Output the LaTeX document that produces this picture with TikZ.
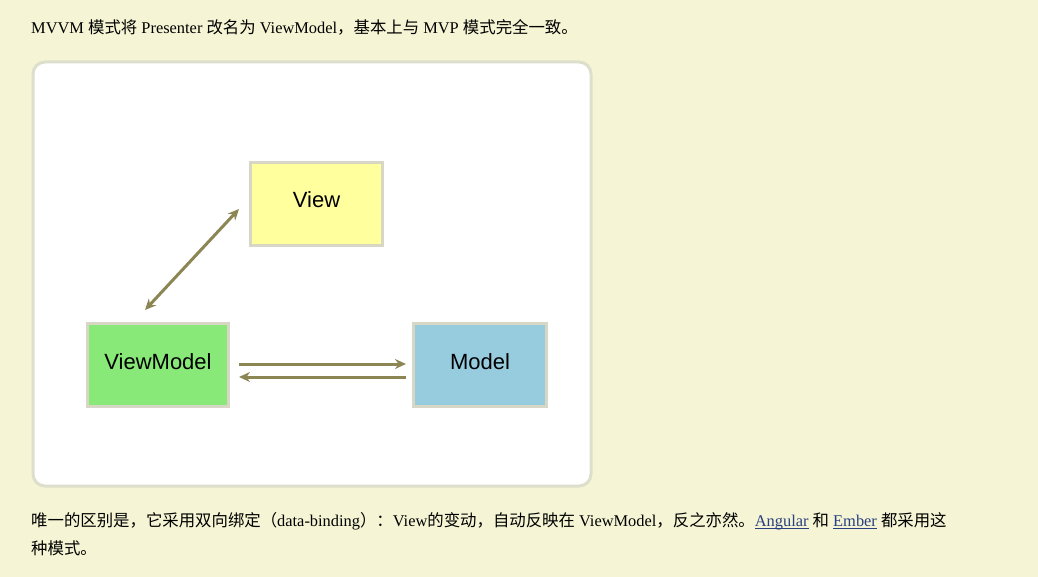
\documentclass[tikz,border=0pt]{standalone}
\usepackage{fontspec}
\setmainfont{Liberation Serif}
\newfontfamily\cjk{Noto Sans CJK SC}
\newfontfamily\boxfont{Liberation Sans}
\usetikzlibrary{arrows.meta,positioning}
\definecolor{pagebg}{RGB}{245,245,213}
\definecolor{panelline}{RGB}{222,222,205}
\definecolor{boxline}{RGB}{216,214,196}
\definecolor{viewfill}{RGB}{255,255,158}
\definecolor{vmfill}{RGB}{136,232,120}
\definecolor{modelfill}{RGB}{150,204,222}
\definecolor{arrowcol}{RGB}{140,134,84}
\definecolor{linkcol}{RGB}{42,63,127}
\newcommand{\weblink}[1]{{\color{linkcol}\setbox0\hbox{#1}\rlap{\rule[-2.5pt]{\wd0}{0.9pt}}\box0}}

\begin{document}
\begin{tikzpicture}[x=1pt,y=-1pt,
	box/.style={draw=boxline, line width=3pt, minimum width=#1, minimum height=83pt, inner sep=0pt, text height=16pt, text depth=8pt, font=\boxfont\fontsize{22}{26}\selectfont},
	link/.style={draw=arrowcol, line width=3pt, -{Stealth[length=11pt,width=10pt]}},
	txt/.style={anchor=base west, inner sep=0pt, font=\fontsize{16.4}{20}\selectfont}]
		\fill[pagebg] (0,0) rectangle (1038,577);
		\useasboundingbox (0,0) rectangle (1038,577);

		\node [txt] (intro) at (31,34) {MVVM {\cjk 模式将} Presenter {\cjk 改名为} ViewModel{\cjk ，基本上与} MVP {\cjk 模式完全一致。}};

		\draw [draw=panelline, fill=white, line width=3pt, rounded corners=12pt] (33,62) rectangle (591,486);

		\draw (316.5,204) node [box=132pt, fill=viewfill] (view) {View};
		\draw (158,365) node [box=141pt, fill=vmfill] (vm) {ViewModel};
		\draw (480,365) node [box=133pt, fill=modelfill] (model) {Model};

		\draw [link, {Stealth[length=11pt,width=10pt]}-{Stealth[length=11pt,width=10pt]}]
			([xshift=-13pt,yshift=12pt]vm.north) -- ([xshift=-10pt,yshift=-5pt]view.west);
		\draw [link] ([xshift=9pt,yshift=1pt]vm.east) -- ([xshift=-6pt,yshift=1pt]model.west);
		\draw [link] ([xshift=-6pt,yshift=-12pt]model.west) -- ([xshift=9pt,yshift=-12pt]vm.east);

		\node [txt] (note) at (31,526) {{\cjk 唯一的区别是，它采用双向绑定（}data-binding{\cjk ）：}View{\cjk 的变动，自动反映在} ViewModel{\cjk ，反之亦然。}\weblink{Angular} {\cjk 和} \weblink{Ember} {\cjk 都采用这}};
		\node [txt] (note2) at (31,554) {\cjk 种模式。};
	\end{tikzpicture}
\end{document}
